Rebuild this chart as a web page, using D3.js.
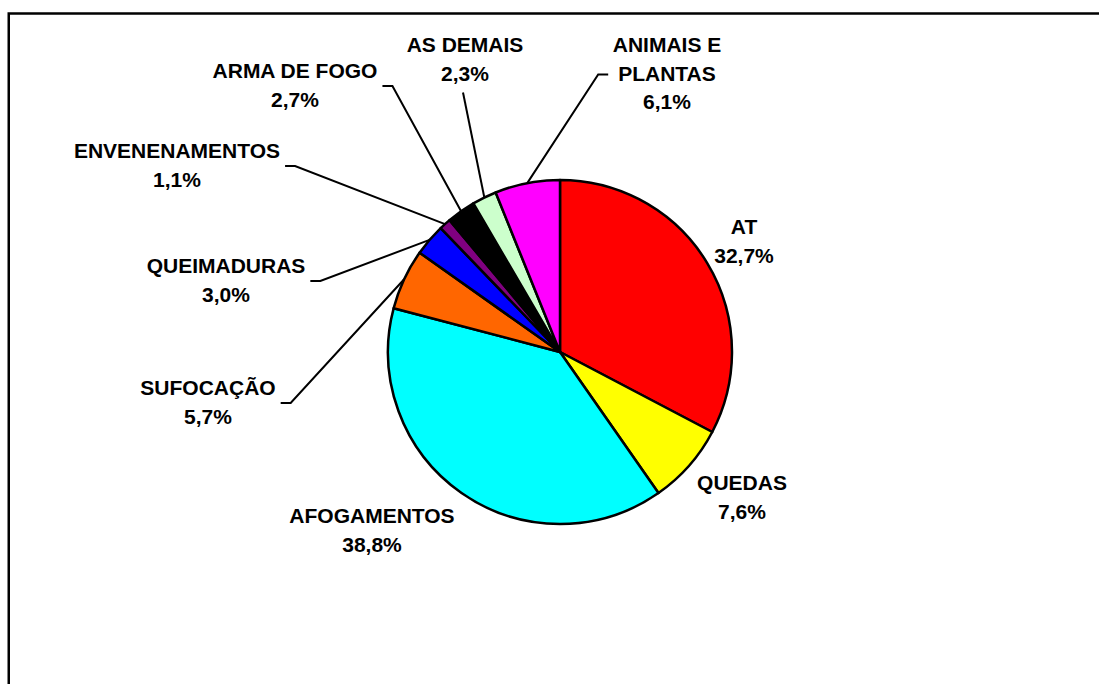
<!DOCTYPE html>
<html lang="pt">
  <head>
    <meta charset="UTF-8" />
    <title>Causas externas</title>
    <script src="https://d3js.org/d3.v7.min.js"></script>
    <style>
      body { margin: 0; background: #fff; }
      text { font-family: "Liberation Sans", Arial, sans-serif; font-weight: bold; font-size: 21px; fill: #000; }
    </style>
  </head>
  <body>
    <script>
      // dados (sentido horario a partir das 12h)
      const categories = ["AT", "QUEDAS", "AFOGAMENTOS", "SUFOCAÇÃO", "QUEIMADURAS",
        "ENVENENAMENTOS", "ARMA DE FOGO", "AS DEMAIS", "ANIMAIS E PLANTAS"];
      const values = [32.7, 7.6, 38.8, 5.7, 3.0, 1.1, 2.7, 2.3, 6.1];
      const labelLines = [["AT"], ["QUEDAS"], ["AFOGAMENTOS"], ["SUFOCAÇÃO"], ["QUEIMADURAS"],
        ["ENVENENAMENTOS"], ["ARMA DE FOGO"], ["AS DEMAIS"], ["ANIMAIS E", "PLANTAS"]];
      const colors = ["#FF0000", "#FFFF00", "#00FFFF", "#FF6600", "#0000FF",
        "#800080", "#000000", "#CCFFCC", "#FF00FF"];

      const width = 1099;
      const height = 684;
      const cx = 560, cy = 352, r = 172;
      const lineH = 28.5;

      // posicao dos rotulos (centro do texto, baseline da 1a linha) e tipo de linha guia
      const labelAt = [
        { x: 744, y: 234, leader: null },
        { x: 742, y: 490, leader: null },
        { x: 372, y: 523, leader: null },
        { x: 208, y: 395, leader: "right" },
        { x: 226, y: 273, leader: "right" },
        { x: 177, y: 158, leader: "right" },
        { x: 295, y: 78, leader: "right" },
        { x: 465, y: 52, leader: "below" },
        { x: 667, y: 52, leader: "left2" }
      ];

      const svg = d3.select("body").append("svg")
        .attr("width", width)
        .attr("height", height);

      svg.append("rect")
        .attr("x", 8.75).attr("y", 13.5)
        .attr("width", width + 20).attr("height", height + 20)
        .attr("fill", "none").attr("stroke", "#000").attr("stroke-width", 2.5);

      const data = categories.map((c, i) => ({ name: c, value: values[i], i: i }));
      const pie = d3.pie().sort(null).value(d => d.value);
      const arc = d3.arc().innerRadius(0).outerRadius(r);
      const edge = d3.arc().innerRadius(r).outerRadius(r);
      const arcs = pie(data);

      const g = svg.append("g").attr("transform", `translate(${cx},${cy})`);
      g.selectAll("path")
        .data(arcs)
        .join("path")
        .attr("d", arc)
        .attr("fill", d => colors[d.data.i])
        .attr("stroke", "#000")
        .attr("stroke-width", 2.5)
        .attr("stroke-linejoin", "round");

      const fmt = v => v.toFixed(1).replace(".", ",") + "%";
      const labels = svg.append("g");

      arcs.forEach(d => {
        const i = d.data.i;
        const pos = labelAt[i];
        const lines = labelLines[i].concat([fmt(d.data.value)]);
        const t = labels.append("text")
          .attr("text-anchor", "middle");
        lines.forEach((s, k) => {
          t.append("tspan").attr("x", pos.x).attr("y", pos.y + k * lineH).text(s);
        });
        if (!pos.leader) return;

        const tip = edge.centroid(d);
        const end = [cx + tip[0], cy + tip[1]];
        const spans = t.selectAll("tspan").nodes();
        let pts;
        if (pos.leader === "right") {
          const w = spans[0].getComputedTextLength();
          const sx = pos.x + w / 2 + 5, sy = pos.y + 8;
          pts = [[sx, sy], [sx + 10, sy], end];
        } else if (pos.leader === "left2") {
          const w = spans[1].getComputedTextLength();
          const sx = pos.x - w / 2 - 10, sy = pos.y + lineH - 6;
          pts = [[sx, sy], [sx - 10, sy], end];
        } else {
          const sy = pos.y + (lines.length - 1) * lineH + 12;
          pts = [[pos.x - 2, sy], end];
        }
        svg.append("path")
          .attr("d", d3.line()(pts))
          .attr("fill", "none")
          .attr("stroke", "#000")
          .attr("stroke-width", 2);
      });
    </script>
  </body>
</html>
